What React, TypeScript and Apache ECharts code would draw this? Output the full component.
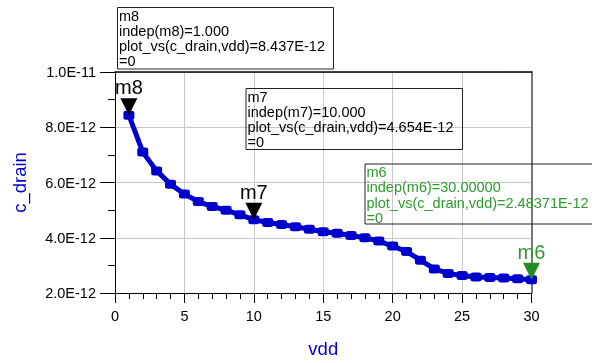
import React, { useEffect, useRef } from 'react';
import * as echarts from 'echarts';

// vdd sweep (V)
const vdd = [1, 2, 3, 4, 5, 6, 7, 8, 9, 10, 11, 12, 13, 14, 15, 16, 17, 18, 19, 20, 21, 22, 23, 24, 25, 26, 27, 28, 29, 30];
// c_drain in units of 1E-12
const cDrain = [8.437, 7.10, 6.42, 5.94, 5.58, 5.31, 5.13, 5.00, 4.83, 4.654, 4.55, 4.48, 4.40, 4.31, 4.22, 4.16, 4.08, 4.00, 3.88, 3.70, 3.50, 3.19, 2.87, 2.71, 2.63, 2.58, 2.56, 2.54, 2.52, 2.48371];

// markers
const markerNames = ['m8', 'm7', 'm6'];
const markerVdd = [1, 10, 30];
const markerIndepText = ['1.000', '10.000', '30.00000'];
const markerValueText = ['8.437E-12', '4.654E-12', '2.48371E-12'];

const FONT = '"Liberation Sans", Arial, Helvetica, sans-serif';
const BLUE = '#0000cc';
const GREEN = '#2e9b2e';

export default function App() {
  const ref = useRef<HTMLDivElement>(null);
  useEffect(() => {
    const chart = echarts.init(ref.current!, null, { renderer: 'svg' });
    const fmtY = (v: number) => {
      let m = v;
      let e = -12;
      while (m >= 10 - 1e-9) { m /= 10; e += 1; }
      return m.toFixed(1) + 'E' + e;
    };
    const markerColors = ['#000000', '#000000', '#228b22'];
    const labelColors = ['#000000', '#000000', GREEN];
    const boxRects = [
      [117.5, 7.5, 216, 61.5],
      [246, 88.5, 216.5, 61],
      [365, 164, 240, 60],
    ];
    const graphics: any[] = [];
    markerNames.forEach((n, i) => {
      const [x, y, w, h] = boxRects[i];
      graphics.push({
        type: 'rect',
        shape: { x, y, width: w, height: h },
        style: { fill: 'none', stroke: '#222', lineWidth: 1 },
        z: 10,
      });
      graphics.push({
        type: 'text',
        x: x + 1.5,
        y: y + 0.5,
        z: 11,
        style: {
          text: `${n}\nindep(${n})=${markerIndepText[i]}\nplot_vs(c_drain,vdd)=${markerValueText[i]}\n=0`,
          fill: labelColors[i],
          fontSize: 14.5,
          fontFamily: FONT,
          lineHeight: 15.2,
          verticalAlign: 'top',
          align: 'left',
        },
      });
    });

    chart.setOption({
      animation: false,
      grid: { left: 115, top: 72, right: 60.5, bottom: 67, containLabel: false },
      xAxis: [
        {
          type: 'value',
          min: 0,
          max: 30,
          interval: 5,
          position: 'bottom',
          axisLine: { show: true, onZero: false, lineStyle: { color: '#000', width: 1 } },
          axisTick: { show: true, length: 10, lineStyle: { color: '#000' } },
          minorTick: { show: true, splitNumber: 5, length: 6, lineStyle: { color: '#000' } },
          axisLabel: { margin: 15, fontSize: 14.5, color: '#000', fontFamily: FONT },
          splitLine: { show: true, lineStyle: { color: '#c8c8c8', width: 1 } },
          name: 'vdd',
          nameLocation: 'middle',
          nameGap: 46,
          nameTextStyle: { color: BLUE, fontSize: 18.5, fontFamily: FONT },
        },
        {
          type: 'value',
          min: 0,
          max: 30,
          position: 'top',
          axisLine: { show: true, onZero: false, lineStyle: { color: '#000', width: 1.5 } },
          axisTick: { show: false },
          axisLabel: { show: false },
          splitLine: { show: false },
        },
      ],
      yAxis: [
        {
          type: 'value',
          min: 2,
          max: 10,
          interval: 2,
          position: 'left',
          axisLine: { show: true, onZero: false, lineStyle: { color: '#000', width: 1 } },
          axisTick: { show: true, length: 15, lineStyle: { color: '#000' } },
          minorTick: { show: true, splitNumber: 2, length: 7, lineStyle: { color: '#000' } },
          axisLabel: { margin: 19, fontSize: 14.5, color: '#000', fontFamily: FONT, formatter: fmtY },
          splitLine: { show: true, lineStyle: { color: '#c8c8c8', width: 1 } },
          name: 'c_drain',
          nameLocation: 'middle',
          nameGap: 86,
          nameRotate: 90,
          nameTextStyle: { color: BLUE, fontSize: 18.5, fontFamily: FONT },
        },
        {
          type: 'value',
          min: 2,
          max: 10,
          position: 'right',
          axisLine: { show: true, onZero: false, lineStyle: { color: '#777', width: 2 } },
          axisTick: { show: false },
          axisLabel: { show: false },
          splitLine: { show: false },
        },
      ],
      series: [
        {
          type: 'line',
          xAxisIndex: 0,
          yAxisIndex: 0,
          data: vdd.map((x, i) => [x, cDrain[i]]),
          symbol: 'roundRect',
          symbolSize: [11, 9],
          showAllSymbol: true,
          lineStyle: { color: BLUE, width: 5 },
          itemStyle: { color: BLUE },
          z: 3,
          markPoint: {
            symbol: 'path://M0,0L20,0L10,20Z',
            symbolSize: [17, 17],
            symbolOffset: [0, -8.5],
            label: { show: true, position: 'top', distance: 1, fontSize: 20, fontFamily: FONT },
            data: markerNames.map((n, i) => ({
              name: n,
              coord: [markerVdd[i], cDrain[vdd.indexOf(markerVdd[i])]],
              itemStyle: { color: markerColors[i] },
              label: { color: labelColors[i], formatter: n },
            })),
          },
        },
      ],
      graphic: graphics,
    });
    return () => chart.dispose();
  }, []);
  return <div ref={ref} style={{ position: 'fixed', left: 0, top: 0, width: 592, height: 363 }} />;
}
